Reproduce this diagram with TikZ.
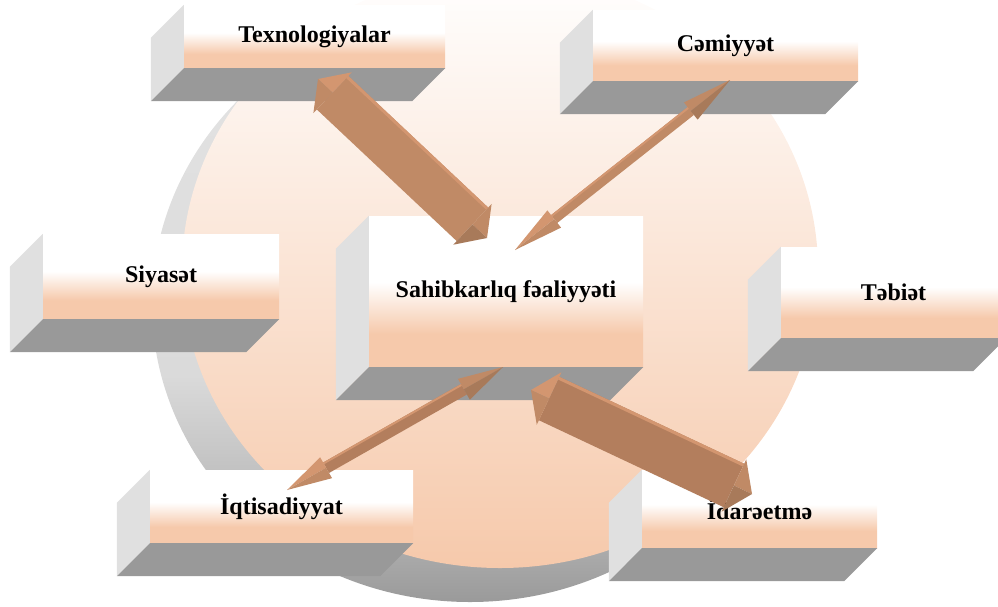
\documentclass[tikz,border=0pt]{standalone}
\usepackage{fontspec}
\setmainfont{Liberation Serif}
\usetikzlibrary{calc}
\definecolor{peachc}{HTML}{F6C9AB}
\definecolor{sidegray}{HTML}{E0E0E0}
\definecolor{botgray}{HTML}{999999}
\definecolor{arrmain}{HTML}{C08A66}
\definecolor{arrbody}{HTML}{B37E5D}
\definecolor{arrlight}{HTML}{D39670}
\definecolor{arrdark}{HTML}{A87A5A}
\definecolor{shA}{HTML}{E4E4E4}
\definecolor{shB}{HTML}{DADADA}
\definecolor{shC}{HTML}{B6B6B6}
\definecolor{shD}{HTML}{9A9A9A}
\pgfdeclareverticalshading{boxsh}{100bp}{color(0bp)=(peachc); color(36bp)=(peachc); color(53bp)=(white); color(100bp)=(white)}
\pgfdeclareverticalshading{shadowsh}{100bp}{color(0bp)=(shD); color(25bp)=(shD); color(32bp)=(shC); color(44bp)=(shB); color(75bp)=(shA); color(100bp)=(shA)}
% #1 from, #2 to, #3 half body, #4 half head, #5 head length, #6 strip inner half width, #7 body colour
\newcommand\blockarr[7]{%
  \coordinate (s1) at ($(#1)!#5!(#2)$);
  \coordinate (s2) at ($(#2)!#5!(#1)$);
  \fill[#7] ($(s1)!#3!90:(#2)$) -- ($(s2)!#3!-90:(#1)$) -- ($(s2)!#3!90:(#1)$) -- ($(s1)!#3!-90:(#2)$) -- cycle;
  \fill[arrlight] ($(s1)!#3!90:(#2)$) -- ($(s2)!#3!-90:(#1)$) -- ($(s2)!#6!-90:(#1)$) -- ($(s1)!#6!90:(#2)$) -- cycle;
  \fill[arrlight] (#1) -- ($(s1)!#4!90:(#2)$) -- (s1) -- cycle;
  \fill[arrmain] (#1) -- (s1) -- ($(s1)!#4!-90:(#2)$) -- cycle;
  \fill[arrmain] (#2) -- ($(s2)!#4!-90:(#1)$) -- (s2) -- cycle;
  \fill[arrdark] (#2) -- (s2) -- ($(s2)!#4!90:(#1)$) -- cycle;
}
\tikzset{
  face/.style={shade, shading=boxsh, inner sep=0pt, font=\bfseries\fontsize{24}{28}\selectfont, text=black},
}
\begin{document}
\begin{tikzpicture}[x=1pt,y=-1pt]
\useasboundingbox (0,0) rectangle (998,606);
\clip (0,0) rectangle (998,606);
% background disc with its shadow
\shade[shading=shadowsh] (470,304) ellipse [x radius=318pt, y radius=298pt];
\shade[top color=white, bottom color=peachc] (500,270) ellipse [x radius=318pt, y radius=298pt];
% boxes
\node[face, minimum width=261pt, minimum height=63pt] (tech) at (314.5,36.5) {Texnologiyalar};
\node[face, minimum width=265pt, minimum height=71pt] (soc) at (725.5,45.5) {Cəmiyyət};
\node[face, minimum width=236pt, minimum height=85pt] (pol) at (161,276.5) {Siyasət};
\node[face, minimum width=225pt, minimum height=91pt] (nat) at (893.5,292.5) {Təbiət};
\node[face, minimum width=274pt, minimum height=151pt] (ent) at (506,291.5) {Sahibkarlıq fəaliyyəti};
\node[face, minimum width=263pt, minimum height=73pt] (eco) at (281.5,506.5) {İqtisadiyyat};
\node[face, minimum width=235pt, minimum height=78pt] (man) at (759.5,509) {İdarəetmə};
\foreach \n in {tech,soc,pol,nat,ent,eco,man}{
  \fill[sidegray] (\n.north west) -- (\n.south west) -- ++(-33,33) -- ($(\n.north west)+(-33,33)$) -- cycle;
  \fill[botgray] (\n.south west) -- (\n.south east) -- ++(-33,33) -- ($(\n.south west)+(-33,33)$) -- cycle;
}
% arrow ends
\coordinate (a1) at (318,79);
\coordinate (b1) at (487,238);
\coordinate (a2) at (515,250);
\coordinate (b2) at (730,80);
\coordinate (a3) at (287,490);
\coordinate (b3) at (503,367);
\coordinate (a4) at (531,390);
\coordinate (b4) at (752,494);
\blockarr{a1}{b1}{23pt}{28pt}{20pt}{20pt}{arrmain}
\blockarr{a2}{b2}{5pt}{11pt}{50pt}{3pt}{arrmain}
\blockarr{a3}{b3}{6pt}{12pt}{45pt}{4pt}{arrbody}
\blockarr{a4}{b4}{24pt}{29pt}{20pt}{21pt}{arrbody}
\end{tikzpicture}
\end{document}
